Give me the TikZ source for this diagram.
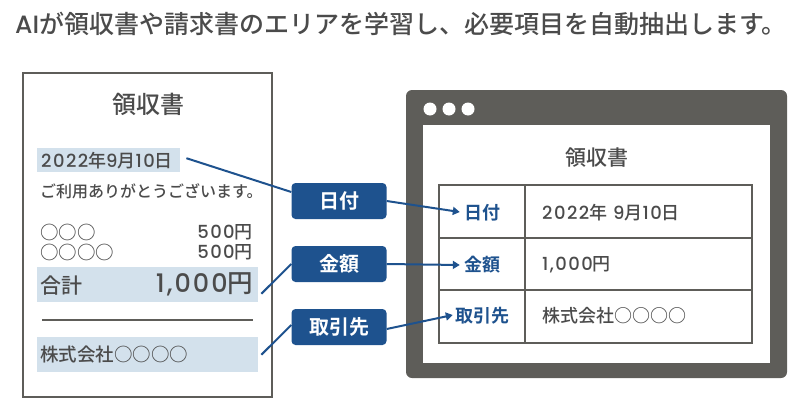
\documentclass[tikz,border=0pt]{standalone}
\usepackage{fontspec}
\setmainfont{Noto Sans CJK JP}[UprightFont=* Medium, BoldFont=* Bold]
\newfontfamily\numf{Poppins}[UprightFont=* Medium, LetterSpace=8]
\usetikzlibrary{arrows.meta,positioning,calc}
\definecolor{ink}{RGB}{75,75,75}
\definecolor{frame}{RGB}{94,93,89}
\definecolor{navy}{RGB}{30,82,142}
\definecolor{mark}{RGB}{211,225,236}
\newcommand{\fsz}[1]{\fontsize{#1}{#1}\selectfont}
\newcommand{\num}[1]{{\numf #1}}
\tikzset{
  paper/.style={draw=frame, line width=2pt, fill=white},
  hl/.style={fill=mark, inner sep=0pt, anchor=north west},
  txt/.style={text=ink, inner sep=0pt},
  tag/.style={fill=navy, rounded corners=4pt, text=white, inner sep=0pt,
    font=\bfseries\fsz{20}, minimum width=95pt, minimum height=36pt},
  link/.style={draw=navy, line width=2pt},
  flow/.style={draw=navy, line width=2pt, -{Triangle[length=7pt,width=8pt]}},
  grid/.style={draw=frame, line width=2.5pt},
  cell/.style={text=navy, inner sep=0pt, font=\bfseries\fsz{18}},
  val/.style={text=ink, inner sep=0pt, anchor=west, font=\fsz{18}}
}
\begin{document}
\begin{tikzpicture}[x=1pt,y=-1pt]
  \useasboundingbox (0,0) rectangle (808,407);
  \node[txt, anchor=west, font=\fsz{25}] (title) at (15,24)
    {{\numf\addfontfeature{LetterSpace=0}AI}が領収書や請求書のエリアを学習し、必要項目を自動抽出します。};

  % 領収書
  \draw[paper] (23,73) rectangle (272,397);
  \node[txt, font=\fsz{24}] (rTitle) at (148,104) {領収書};
  \node[hl, minimum width=143pt, minimum height=24pt] (dateHl) at (37,148) {};
  \node[txt, anchor=west, font=\fsz{18}] at ($(dateHl.west)+(4,0)$)
    {\num{2022}年\num{9}月\num{10}日};
  \node[txt, anchor=west, font=\fsz{16}] (thanks) at (40,191) {ご利用ありがとうございます。};
  \node[txt, anchor=west, font=\fsz{18.5}] (item1) at (40,232) {○○○};
  \node[txt, anchor=east, font=\fsz{18}] (price1) at (253,232) {\num{500}円};
  \node[txt, anchor=west, font=\fsz{18.5}] (item2) at (40,252) {○○○○};
  \node[txt, anchor=east, font=\fsz{18}] (price2) at (253,252) {\num{500}円};
  \node[hl, minimum width=221pt, minimum height=35pt] (sumHl) at (37,267) {};
  \node[txt, anchor=west, font=\fsz{21}] at ($(sumHl.west)+(3,1)$) {合計};
  \node[txt, anchor=east, font=\fsz{25.5}] at ($(sumHl.east)+(-5,0)$) {\num{1,000}円};
  \draw[frame, line width=2pt] (42,320) -- (253,320);
  \node[hl, minimum width=221pt, minimum height=35pt] (coHl) at (37,337) {};
  \node[txt, anchor=west, font=\fsz{18.5}] at ($(coHl.west)+(3,0)$) {株式会社○○○○};

  % 項目タグ
  \node[tag] (lblDate) at (339,201) {日付};
  \node[tag] (lblSum) at (339,264) {金額};
  \node[tag] (lblCo) at (339,327) {取引先};

  % 画面
  \fill[frame, rounded corners=6pt] (406,90) rectangle (787,378);
  \fill[white] (423,125) rectangle (770,363);
  \foreach \x in {430,449,468}
    \fill[white] (\x,109) circle (6.5);
  \node[txt, font=\fsz{21}] (wTitle) at (597,158) {領収書};
  \draw[grid] (439,185) rectangle (752,343);
  \draw[grid] (525,185) -- (525,343);
  \draw[grid] (439,238) -- (752,238);
  \draw[grid] (439,290) -- (752,290);
  \node[cell] (tDate) at (482,213) {日付};
  \node[cell] (tSum) at (482,265) {金額};
  \node[cell] (tCo) at (482,316) {取引先};
  \node[val] at (542,213) {\num{2022}年\hspace{6pt}\num{9}月\num{10}日};
  \node[val] at (542,265) {\num{1,000}円};
  \node[val] at (542,316) {株式会社○○○○};

  \draw[link] ($(dateHl.east)+(6,-2)$) -- ($(lblDate.west)+(0,-9)$);
  \draw[link] ($(sumHl.east)+(3,9)$) -- (lblSum.west);
  \draw[link] ($(coHl.east)+(3,0)$) -- ($(lblCo.west)+(0,-2)$);
  \draw[flow] (lblDate.east) -- ($(tDate.west)+(-4,-1)$);
  \draw[flow] (lblSum.east) -- ($(tSum.west)+(-4,0)$);
  \draw[flow] ($(lblCo.east)+(0,2)$) -- ($(tCo.west)+(-2,-1)$);
\end{tikzpicture}
\end{document}
